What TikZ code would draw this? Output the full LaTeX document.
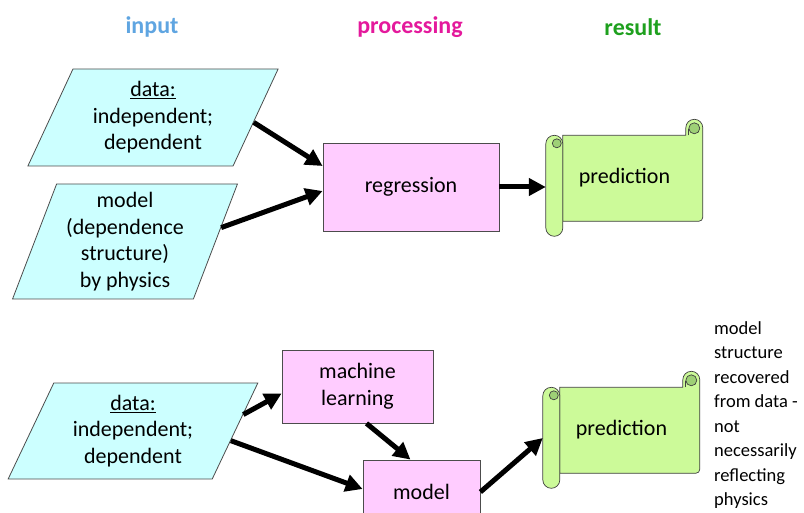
\documentclass[tikz,border=0pt]{standalone}
\usepackage{fontspec}
\setmainfont{Carlito}
\usetikzlibrary{positioning}
\usetikzlibrary{calc}
\usetikzlibrary{shapes.geometric,arrows.meta,backgrounds}

\definecolor{incyan}{RGB}{204,255,255}
\definecolor{procpink}{RGB}{255,204,255}
\definecolor{resgreen}{RGB}{204,250,153}
\definecolor{curlgreen}{RGB}{158,208,118}
\definecolor{headblue}{RGB}{95,165,225}
\definecolor{headpink}{RGB}{228,25,156}
\definecolor{headgreen}{RGB}{30,160,30}

% scroll outline behind a result node
\newcommand{\drawscroll}[1]{%
	\begin{scope}[on background layer,shift={(#1.north west)}]
		\filldraw[scrollpart] (17,16) -- (140,16) -- (140,8.5) arc[start angle=180,end angle=0,radius=8.5pt] -- (157,98) arc[start angle=0,end angle=-90,radius=4pt] -- (17,102) -- cycle;
		\filldraw[scrollpart,fill=curlgreen] (148.5,9) circle[radius=5.5pt];
		\draw[scrollpart] (143,16) -- (143,10);
		\filldraw[scrollpart] (0,24.5) arc[start angle=180,end angle=0,radius=8.5pt] -- (17,108.5) arc[start angle=0,end angle=-180,radius=8.5pt] -- cycle;
		\filldraw[scrollpart,fill=curlgreen] (11,24) circle[radius=4.5pt];
	\end{scope}}

\begin{document}
\begin{tikzpicture}[x=1pt,y=-1pt,align=center,font=\fontsize{22}{26.5}\selectfont,
	inbox/.style={trapezium,draw=black!70,fill=incyan,line width=0.8pt,inner sep=1pt},
	procbox/.style={rectangle,draw=black!70,fill=procpink,line width=0.8pt},
	resnode/.style={rectangle,minimum width=157pt,minimum height=117pt,inner sep=0pt},
	scrollpart/.style={draw=black!75,fill=resgreen,line width=0.7pt},
	headtext/.style={font=\fontsize{24}{28}\selectfont\bfseries},
	flow/.style={line width=5pt,-{Triangle[length=17pt,width=17pt]}}]
	\useasboundingbox (0,0) rectangle (804,513);
	\clip (0,0) rectangle (804,513);
	\node[headtext,text=headblue] (hin) at (152,27){input};
	\node[headtext,text=headpink] (hproc) at (410,27){processing};
	\node[headtext,text=headgreen] (hres) at (633,27){result};
	% regression row
	\node[inbox,trapezium left angle=65,trapezium right angle=115,minimum width=232pt,minimum height=97pt] (data1) at (153,117.5){\underline{data:}\\independent;\\dependent};
	\node[inbox,trapezium left angle=69,trapezium right angle=111,minimum width=224pt,minimum height=115pt] (phys) at (125,241.5){model\\(dependence\\structure)\\by physics};
	\node[procbox,minimum width=176pt,minimum height=88pt] (reg) at (411,187){regression};
	\node[resnode] (pred1) at (624.5,178){prediction};
	\drawscroll{pred1}
	% machine learning row
	\node[inbox,trapezium left angle=64.5,trapezium right angle=115.5,minimum width=228pt,minimum height=96pt] (data2) at (133,431){\underline{data:}\\independent;\\dependent};
	\node[procbox,minimum width=151pt,minimum height=73pt] (ml) at (357.5,386.5){machine\\learning};
	\node[procbox,minimum width=117pt,minimum height=64pt] (mod) at (421.5,492){model};
	\node[resnode] (pred2) at (621.5,430){prediction};
	\drawscroll{pred2}
	\node[anchor=north west,align=left,inner sep=0pt,font=\fontsize{18.5}{24.5}\selectfont] (note) at (714,321){model\\structure\\recovered\\from data -\\not\\necessarily\\reflecting\\physics};
	\draw[flow] ($(data1.top right corner)!0.55!(data1.bottom right corner)$) -- ([yshift=21pt]reg.west);
	\draw[flow] ($(phys.top right corner)!0.38!(phys.bottom right corner)$) -- ([yshift=-4pt]reg.west);
	\draw[flow] (reg.east) -- (reg.east -| pred1.west);
	\draw[flow] ($(data2.top right corner)!0.33!(data2.bottom right corner)$) -- ([yshift=-7pt]ml.west);
	\draw[flow] ($(data2.top right corner)!0.6!(data2.bottom right corner)$) -- ([yshift=3pt]mod.west);
	\draw[flow] ([xshift=9pt]ml.south) -- ([xshift=-11pt]mod.north);
	\draw[flow] (mod.east) -- ([yshift=-8pt]pred2.west);
\end{tikzpicture}
\end{document}
